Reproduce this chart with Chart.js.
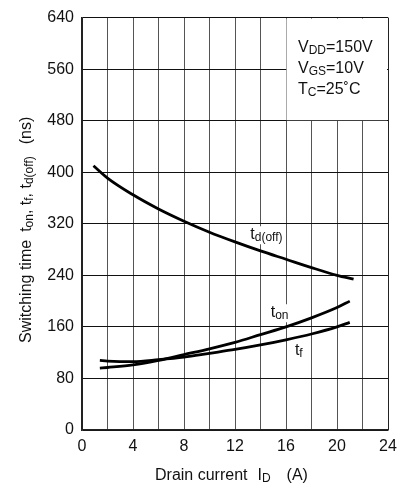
<!DOCTYPE html>
<html>
<head>
<meta charset="utf-8">
<script src="https://cdn.jsdelivr.net/npm/chart.js@4.4.1/dist/chart.umd.min.js"></script>
<style>
  html, body { margin: 0; padding: 0; background: #fff; }
  #wrap { width: 409px; height: 487px; }
</style>
</head>
<body>
<div id="wrap"><canvas id="swChart" width="409" height="487"></canvas></div>
<script>
// switching time vs drain current
const tdOffX = [0.9, 2, 4, 6, 8, 10, 12, 14, 16, 18, 20, 21.3];
const tdOffY = [410, 391, 365, 343, 324, 307, 292, 278, 265, 252, 240, 234];

const tOnX = [1.4, 2, 4, 6, 8, 10, 12, 14, 16, 18, 20, 21];
const tOnY = [96, 97, 101, 108, 117, 126, 136, 148, 160, 174, 190, 200];

const tFX = [1.4, 2, 4, 6, 8, 10, 12, 14, 16, 18, 20, 21];
const tFY = [108, 107, 106, 109, 113, 119, 125, 132, 140, 149, 160, 167];

const xTicks = [0, 4, 8, 12, 16, 20, 24];
const yTicks = [0, 80, 160, 240, 320, 400, 480, 560, 640];

const FONT = "'Liberation Sans', Arial, sans-serif";

const toPts = (xs, ys) => xs.map((x, i) => ({ x: x, y: ys[i] }));

// draw text with subscripts, returns end x
function drawRuns(ctx, x, y, runs, size, subSize) {
    runs.forEach(r => {
        ctx.font = (r.sub ? subSize : size) + 'px ' + FONT;
        ctx.fillText(r.t, x, y + (r.sub ? 2 : 0));
        x += ctx.measureText(r.t).width + (r.gap || 0);
    });
    return x;
}
function runsWidth(ctx, runs, size, subSize) {
    let w = 0;
    runs.forEach(r => {
        ctx.font = (r.sub ? subSize : size) + 'px ' + FONT;
        w += ctx.measureText(r.t).width + (r.gap || 0);
    });
    return w;
}

const decorations = {
    id: 'decorations',
    beforeDatasetsDraw(chart) {
        const ctx = chart.ctx;
        const xs = chart.scales.x, ys = chart.scales.y;
        // the condition box in the top right corner hides the grid
        const l = xs.getPixelForValue(16), r = xs.getPixelForValue(24);
        const t = ys.getPixelForValue(640), b = ys.getPixelForValue(480);
        ctx.save();
        ctx.fillStyle = '#fff';
        ctx.fillRect(l + 0.5, t + 1, r - l - 1.5, b - t - 1.5);
        ctx.restore();
    },
    afterDatasetsDraw(chart) {
        const ctx = chart.ctx;
        const xs = chart.scales.x, ys = chart.scales.y;
        ctx.save();
        ctx.fillStyle = '#111';
        ctx.textBaseline = 'alphabetic';
        ctx.textAlign = 'left';

        // curve labels
        const labels = [
            { x: 13.2, y: 296, runs: [{ t: 't' }, { t: 'd(off)', sub: true }] },
            { x: 14.8, y: 175, runs: [{ t: 't' }, { t: 'on', sub: true }] },
            { x: 16.7, y: 116, runs: [{ t: 't' }, { t: 'f', sub: true }] }
        ];
        labels.forEach(lb => {
            const px = xs.getPixelForValue(lb.x), py = ys.getPixelForValue(lb.y);
            const w = runsWidth(ctx, lb.runs, 16, 12);
            ctx.fillStyle = '#fff';
            ctx.fillRect(px - 1, py - 13, w + 2, 18);
            ctx.fillStyle = '#111';
            drawRuns(ctx, px, py, lb.runs, 16, 12);
        });

        // test conditions
        const cx = 298;
        drawRuns(ctx, cx, 52, [{ t: 'V' }, { t: 'DD', sub: true }, { t: '=150V' }], 16, 12);
        drawRuns(ctx, cx, 73, [{ t: 'V' }, { t: 'GS', sub: true }, { t: '=10V' }], 16, 12);
        drawRuns(ctx, cx, 94, [{ t: 'T' }, { t: 'C', sub: true }, { t: '=25' }, { t: '\u02DA' }, { t: 'C' }], 16, 12);

        // x axis title
        drawRuns(ctx, 155, 480, [{ t: 'Drain current', gap: 10 }, { t: 'I' }, { t: 'D', sub: true, gap: 16 }, { t: '(A)' }], 16, 12);

        // y axis title (rotated)
        ctx.translate(31, 343);
        ctx.rotate(-Math.PI / 2);
        drawRuns(ctx, 0, 0, [
            { t: 'Switching time', gap: 8 },
            { t: 't' }, { t: 'on', sub: true }, { t: ', t' }, { t: 'f', sub: true },
            { t: ', t' }, { t: 'd(off)', sub: true, gap: 12 },
            { t: '(ns)' }
        ], 16, 12);
        ctx.restore();
    }
};

const ctx = document.getElementById('swChart').getContext('2d');
const lineStyle = { borderColor: '#000', borderWidth: 2.8, pointRadius: 0, fill: false, cubicInterpolationMode: 'monotone' };

new Chart(ctx, {
    type: 'line',
    data: {
        datasets: [
            Object.assign({ label: 'td(off)', data: toPts(tdOffX, tdOffY) }, lineStyle),
            Object.assign({ label: 'ton', data: toPts(tOnX, tOnY) }, lineStyle),
            Object.assign({ label: 'tf', data: toPts(tFX, tFY) }, lineStyle)
        ]
    },
    options: {
        responsive: false,
        animation: false,
        events: [],
        layout: { padding: { left: 0, top: 15, right: 21, bottom: 0 } },
        plugins: {
            legend: { display: false },
            tooltip: { enabled: false }
        },
        scales: {
            x: {
                type: 'linear',
                min: 0,
                max: 24,
                afterFit: s => { s.height = 57; },
                afterBuildTicks: s => {
                    // grid every 2 A, labels every 4 A
                    s.ticks = [];
                    for (let v = 0; v <= 24; v += 2) s.ticks.push({ value: v });
                },
                ticks: {
                    autoSkip: false,
                    maxRotation: 0,
                    padding: 7,
                    color: '#111',
                    font: { family: FONT, size: 16 },
                    callback: v => xTicks.includes(v) ? String(v) : ''
                },
                grid: {
                    drawTicks: false,
                    lineWidth: 1,
                    color: c => (c.tick && (c.tick.value === 0 || c.tick.value === 24)) ? '#222' : '#555'
                },
                border: { color: '#222', width: 1.5 }
            },
            y: {
                min: 0,
                max: 640,
                afterFit: s => { s.width = 82; },
                afterBuildTicks: s => { s.ticks = yTicks.map(v => ({ value: v })); },
                ticks: {
                    padding: 8,
                    color: '#111',
                    font: { family: FONT, size: 16 }
                },
                grid: {
                    drawTicks: false,
                    lineWidth: 1,
                    color: '#111'
                },
                border: { color: '#222', width: 1.5 }
            }
        }
    },
    plugins: [decorations]
});
</script>
</body>
</html>
